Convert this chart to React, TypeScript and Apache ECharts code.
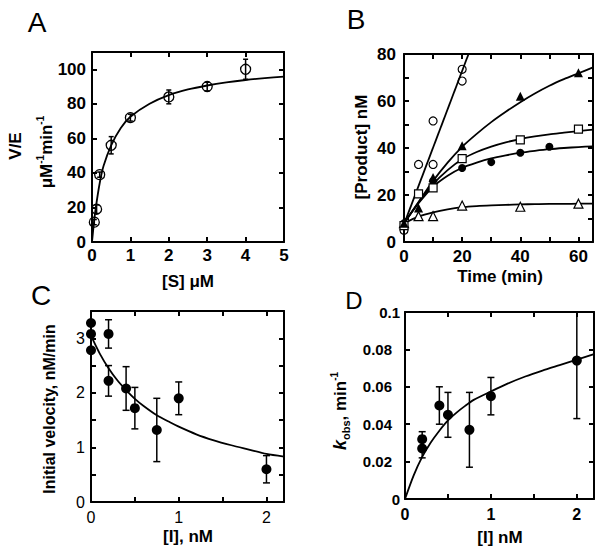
import React, { useEffect, useRef } from 'react';
import * as echarts from 'echarts';

const FONT = '"Liberation Sans", Arial, Helvetica, sans-serif';

// ---------- Panel A: V/E vs [S] ----------
const aS = [0.06, 0.12, 0.2, 0.5, 1, 2, 3, 4];
const aV = [11.5, 19, 39, 56, 72, 84, 90, 100];
const aErr = [1.5, 2.5, 1.5, 5, 2, 4, 2.5, 5.8];
const aFitS = [0, 0.05, 0.1, 0.2, 0.3, 0.5, 0.75, 1, 1.5, 2, 2.5, 3, 3.5, 4, 4.5, 5];
const aFitV = [0, 11, 20, 34, 44, 56, 66, 72.5, 80, 85, 88.3, 90.6, 92.4, 93.8, 94.9, 95.8];

// ---------- Panel B: [Product] vs time ----------
const bOpenCircleT = [0, 5, 10, 10, 20, 20];
const bOpenCircleY = [5, 33, 51.5, 33, 73.5, 68.5];
const bFilledTriT = [0, 5, 10, 20, 40, 60];
const bFilledTriY = [8, 14.5, 27.5, 41, 62, 72];
const bOpenSquareT = [0, 5, 10, 20, 40, 60];
const bOpenSquareY = [7, 20.5, 23, 35.5, 43.5, 48];
const bFilledCircleT = [0, 10, 20, 30, 40, 50];
const bFilledCircleY = [8, 26, 31.5, 34, 38, 40.5];
const bOpenTriT = [0, 5, 10, 20, 40, 60];
const bOpenTriY = [8, 11, 11, 15.5, 15, 16.3];
const bLineT = [0, 22.2];
const bLineY = [7.5, 80];
const bFitT = [0, 5, 10, 15, 20, 25, 30, 35, 40, 45, 50, 55, 60, 65];
const bFitFilledTri = [8, 17, 26, 33.8, 40.5, 46, 51, 55.4, 59.5, 63.2, 66.5, 69.3, 71.8, 74.3];
const bFitOpenSquare = [8, 16.8, 24.6, 30.6, 35.2, 38.3, 40.6, 42.4, 43.8, 44.9, 45.8, 46.5, 47.2, 47.8];
const bFitFilledCircle = [8, 16.5, 23.5, 28.2, 31.6, 33.8, 35.6, 36.9, 38, 38.8, 39.5, 40, 40.4, 40.7];
const bFitOpenTri = [8, 10.8, 12.6, 13.9, 14.8, 15.3, 15.6, 15.8, 16.0, 16.1, 16.2, 16.2, 16.3, 16.3];

// ---------- Panel C: initial velocity vs [I] ----------
const cI = [0, 0, 0, 0.2, 0.2, 0.4, 0.5, 0.75, 1, 2];
const cV = [3.28, 3.08, 2.78, 3.08, 2.22, 2.08, 1.72, 1.32, 1.9, 0.6];
const cErr = [0, 0, 0, 0.26, 0.28, 0.4, 0.38, 0.58, 0.3, 0.25];
const cFitI = [0.02, 0.1, 0.2, 0.3, 0.4, 0.5, 0.6, 0.75, 0.9, 1, 1.2, 1.4, 1.6, 1.8, 2, 2.2];
const cFitV = [2.98, 2.72, 2.45, 2.23, 2.05, 1.89, 1.76, 1.59, 1.46, 1.38, 1.24, 1.13, 1.04, 0.96, 0.88, 0.83];

// ---------- Panel D: k_obs vs [I] ----------
const dI = [0.2, 0.2, 0.4, 0.5, 0.75, 1, 2];
const dK = [0.032, 0.027, 0.05, 0.045, 0.037, 0.055, 0.074];
const dLo = [0.028, 0.022, 0.04, 0.033, 0.017, 0.045, 0.043];
const dHi = [0.036, 0.031, 0.06, 0.057, 0.057, 0.065, 0.1];
const dFitI = [0, 0.1, 0.2, 0.3, 0.4, 0.5, 0.6, 0.7, 0.8, 1, 1.2, 1.4, 1.6, 1.8, 2, 2.2];
const dFitK = [0, 0.0125, 0.0225, 0.0302, 0.0365, 0.042, 0.0462, 0.0498, 0.053, 0.0575, 0.0618, 0.0655, 0.0687, 0.0716, 0.0745, 0.0775];

const isInt = (v: number) => Math.abs(v - Math.round(v)) < 1e-9;

type Spec = {
  min: number; max: number; interval: number;
  fmt: (v: number) => string;
  fontSize: number; fontWeight: string; margin: number; rich?: any;
};

function axes(grid: number, spec: Spec, first: string, second: string) {
  const mk = (labels: boolean, position: string) => ({
    type: 'value', gridIndex: grid, position,
    min: spec.min, max: spec.max, interval: spec.interval,
    axisLine: { show: true, onZero: false, lineStyle: { color: '#000', width: 2 } },
    axisTick: { show: true, inside: true, length: 5, lineStyle: { color: '#000', width: 2 } },
    axisLabel: {
      show: labels, formatter: spec.fmt, margin: spec.margin, color: '#000',
      fontFamily: FONT, fontSize: spec.fontSize, fontWeight: spec.fontWeight,
      rich: spec.rich,
    },
    splitLine: { show: false },
  });
  return [mk(true, first), mk(false, second)];
}

const pairs = (xs: number[], ys: number[]) => xs.map((x, i) => [x, ys[i]]);

function scatter(p: number, xs: number[], ys: number[], symbol: string, size: number, filled: boolean, fill = '#fff', bw = 1.3) {
  return {
    type: 'scatter', xAxisIndex: 2 * p, yAxisIndex: 2 * p, data: pairs(xs, ys),
    symbol, symbolSize: size, silent: true, z: 5,
    itemStyle: filled ? { color: '#000', opacity: 1 } : { color: fill, borderColor: '#000', borderWidth: bw, opacity: 1 },
  };
}

function curve(p: number, xs: number[], ys: number[], smooth: boolean) {
  return {
    type: 'line', xAxisIndex: 2 * p, yAxisIndex: 2 * p, data: pairs(xs, ys),
    showSymbol: false, symbol: 'none', smooth: smooth ? 0.25 : false,
    lineStyle: { color: '#000', width: 1.8 }, silent: true, z: 3, clip: true,
  };
}

function errBars(p: number, xs: number[], lo: number[], hi: number[], cap: number) {
  return {
    type: 'custom', xAxisIndex: 2 * p, yAxisIndex: 2 * p, silent: true, z: 4, clip: true,
    data: xs.map((x, i) => [x, lo[i], hi[i]]).filter((d) => d[2] - d[1] > 1e-12),
    renderItem: (_params: any, api: any) => {
      const a = api.coord([api.value(0), api.value(1)]);
      const b = api.coord([api.value(0), api.value(2)]);
      const style = { stroke: '#000', lineWidth: 1.5 };
      return {
        type: 'group',
        children: [
          { type: 'line', shape: { x1: a[0], y1: a[1], x2: b[0], y2: b[1] }, style },
          { type: 'line', shape: { x1: a[0] - cap, y1: a[1], x2: a[0] + cap, y2: a[1] }, style },
          { type: 'line', shape: { x1: b[0] - cap, y1: b[1], x2: b[0] + cap, y2: b[1] }, style },
        ],
      };
    },
  };
}

const rich = {
  m: { fontFamily: FONT, fontSize: 17, fontWeight: 'bold', lineHeight: 22, verticalAlign: 'middle', fill: '#000', color: '#000' },
  s: { fontFamily: FONT, fontSize: 10, fontWeight: 'bold', lineHeight: 12, verticalAlign: 'top', fill: '#000', color: '#000' },
  b: { fontFamily: FONT, fontSize: 11, fontWeight: 'bold', lineHeight: 12, verticalAlign: 'bottom', fill: '#000', color: '#000' },
  k: { fontFamily: FONT, fontSize: 18, fontWeight: 'bold', fontStyle: 'italic', lineHeight: 22, verticalAlign: 'middle', fill: '#000', color: '#000' },
};

function txt(x: number, y: number, text: string, size: number, weight: string, rotate: boolean, withRich = false) {
  return {
    type: 'text', x, y, rotation: rotate ? Math.PI / 2 : 0, silent: true, z: 10,
    style: {
      text, fill: '#000', font: `${weight} ${size}px ${FONT}`,
      fontFamily: FONT, fontSize: size, fontWeight: weight,
      align: 'center', verticalAlign: 'middle', textAlign: 'center', textVerticalAlign: 'middle',
      rich: withRich ? rich : undefined,
    },
  };
}

export default function App() {
  const ref = useRef<HTMLDivElement>(null);
  useEffect(() => {
    if (!ref.current) return;
    const chart = echarts.init(ref.current, null, { renderer: 'svg' });
    const dFmt = (v: number) => {
      const s = String(Number(v.toFixed(2)));
      if (v > 0.1 + 1e-9) return '';
      return v === 0 || Math.abs(v - 0.1) < 1e-9 ? s : `{p|${s}}`;
    };
    const option: any = {
      animation: false,
      backgroundColor: '#fff',
      grid: [
        { left: 92, top: 52, width: 192, height: 190 },
        { left: 404, top: 54, width: 189, height: 188 },
        { left: 91, top: 311, width: 193, height: 191 },
        { left: 405, top: 312, width: 189, height: 187 },
      ],
      xAxis: [
        ...axes(0, { min: 0, max: 5, interval: 1, fmt: (v) => String(v), fontSize: 17, fontWeight: 'bold', margin: 5 }, 'bottom', 'top'),
        ...axes(1, { min: 0, max: 65, interval: 10, fmt: (v) => (v % 20 === 0 && v <= 60 ? String(v) : ''), fontSize: 17, fontWeight: 'bold', margin: 6 }, 'bottom', 'top'),
        ...axes(2, { min: 0, max: 2.2, interval: 0.5, fmt: (v) => (isInt(v) ? String(Math.round(v)) : ''), fontSize: 16, fontWeight: 'normal', margin: 7 }, 'bottom', 'top'),
        ...axes(3, { min: 0, max: 2.2, interval: 0.5, fmt: (v) => (isInt(v) ? String(Math.round(v)) : ''), fontSize: 16, fontWeight: 'bold', margin: 7 }, 'bottom', 'top'),
      ],
      yAxis: [
        ...axes(0, { min: 0, max: 110, interval: 20, fmt: (v) => (v <= 100 ? String(v) : ''), fontSize: 17, fontWeight: 'bold', margin: 6 }, 'left', 'right'),
        ...axes(1, { min: 0, max: 80, interval: 10, fmt: (v) => (v % 20 === 0 ? String(v) : ''), fontSize: 17, fontWeight: 'bold', margin: 8 }, 'left', 'right'),
        ...axes(2, { min: 0, max: 3.5, interval: 0.5, fmt: (v) => (isInt(v) ? String(Math.round(v)) : ''), fontSize: 16, fontWeight: 'normal', margin: 6 }, 'left', 'right'),
        ...axes(3, {
          min: 0, max: 0.1, interval: 0.02, fmt: dFmt, fontSize: 15, fontWeight: 'bold', margin: 5,
          rich: { p: { padding: [0, 8, 0, 0], fontFamily: FONT, fontSize: 15, fontWeight: 'bold', color: '#000' } },
        }, 'left', 'right'),
      ],
      series: [
        // A
        curve(0, aFitS, aFitV, true),
        errBars(0, aS, aV.map((v, i) => v - aErr[i]), aV.map((v, i) => v + aErr[i]), 2.5),
        scatter(0, aS, aV, 'circle', 10, false, 'rgba(255,255,255,0)', 1.3),
        // B
        curve(1, bLineT, bLineY, false),
        curve(1, bFitT, bFitFilledTri, true),
        curve(1, bFitT, bFitOpenSquare, true),
        curve(1, bFitT, bFitFilledCircle, true),
        curve(1, bFitT, bFitOpenTri, true),
        scatter(1, bOpenCircleT, bOpenCircleY, 'circle', 8, false, 'rgba(255,255,255,0)', 1.2),
        scatter(1, bFilledCircleT, bFilledCircleY, 'circle', 8, true),
        scatter(1, bOpenTriT, bOpenTriY, 'triangle', 9, false, '#fff', 1.2),
        scatter(1, bOpenSquareT, bOpenSquareY, 'rect', 8, false, '#fff', 1.2),
        scatter(1, bFilledTriT, bFilledTriY, 'triangle', 9, true),
        // C
        curve(2, cFitI, cFitV, true),
        errBars(2, cI, cV.map((v, i) => v - cErr[i]), cV.map((v, i) => v + cErr[i]), 3.5),
        scatter(2, cI, cV, 'circle', 10, true),
        // D
        curve(3, dFitI, dFitK, true),
        errBars(3, dI, dLo, dHi, 3.5),
        scatter(3, dI, dK, 'circle', 10, true),
      ],
      graphic: [
        txt(37, 22, 'A', 28, 'normal', false),
        txt(356, 19, 'B', 28, 'normal', false),
        txt(41, 295, 'C', 28, 'normal', false),
        txt(354, 300, 'D', 24, 'normal', false),
        // axis titles
        txt(188, 281, '[S] μM', 17, 'bold', false),
        txt(500, 276, 'Time (min)', 17, 'bold', false),
        txt(188, 536, '[I], nM', 17, 'bold', false),
        txt(500, 537, '[I] nM', 17, 'bold', false),
        txt(15, 146, 'V/E', 17, 'bold', true),
        txt(46, 152, '{m|μM}{s|-1}{m|min}{s|-1}', 17, 'bold', true, true),
        txt(361, 147, '[Product] nM', 17, 'bold', true),
        txt(49, 409, 'Initial velocity, nM/min', 16, 'bold', true),
        txt(340, 411, '{k|k}{b|obs}{m|, min}{s|-1}', 17, 'bold', true, true),
      ],
    };
    chart.setOption(option);
    return () => chart.dispose();
  }, []);
  return (
    <div
      ref={ref}
      style={{ position: 'absolute', left: 0, top: 0, width: 602, height: 553, background: '#fff' }}
    />
  );
}
